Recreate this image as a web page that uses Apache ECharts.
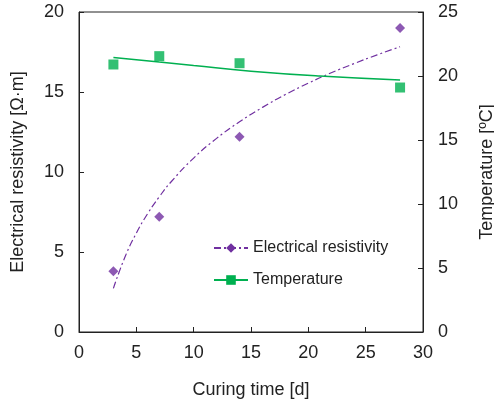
<!DOCTYPE html>
<html><head><meta charset="utf-8">
<script src="https://cdn.jsdelivr.net/npm/echarts@6/dist/echarts.min.js"></script>
<style>html,body{margin:0;padding:0;background:#fff}#c{width:494px;height:405px}</style>
</head><body><div id="c"></div>
<script>
const curingDays = [3, 7, 14, 28];
const resistivity = [3.8, 7.2, 12.2, 19.0];
const temperature = [20.9, 21.55, 21.0, 19.1];
const resTrendX = [3, 4, 5, 6, 7, 8, 10, 12, 14, 16, 18, 20, 22, 24, 26, 28];
const resTrendY = [2.73, 4.67, 6.18, 7.41, 8.45, 9.36, 10.87, 12.1, 13.14, 14.04, 14.84, 15.55, 16.2, 16.78, 17.32, 17.83];
const tempTrendX = [3, 7, 10, 15, 21, 28];
const tempTrendY = [21.45, 21.1, 20.82, 20.38, 20.0, 19.69];

const purple = '#7030A0', green = '#00B050';
const font = 'Liberation Sans, Arial, sans-serif';
const zip = (a, b) => a.map((v, i) => [v, b[i]]);

const chart = echarts.init(document.getElementById('c'));
chart.setOption({
  animation: false,
  grid: { left: 79, right: 71, top: 12, bottom: 73, containLabel: false, outerBoundsMode: 'none',
          show: true, borderColor: '#222', borderWidth: 1 },
  legend: {
    orient: 'vertical', left: 213, top: 240, padding: 0, itemWidth: 34, itemHeight: 12, itemGap: 16,
    textStyle: { fontFamily: font, fontSize: 16, color: '#222' },
    data: ['Electrical resistivity', 'Temperature']
  },
  xAxis: {
    type: 'value', min: 0, max: 30, interval: 5,
    name: 'Curing time [d]', nameLocation: 'middle', nameGap: 49,
    nameTextStyle: { fontFamily: font, fontSize: 18, color: '#222' },
    axisLine: { lineStyle: { color: '#222' } },
    axisTick: { inside: true, length: 5, lineStyle: { color: '#222' } },
    axisLabel: { fontFamily: font, fontSize: 18, color: '#222', margin: 12 },
    splitLine: { show: false }
  },
  yAxis: [{
    type: 'value', min: 0, max: 20, interval: 5,
    name: 'Electrical resistivity [Ω·m]', nameLocation: 'middle', nameGap: 52,
    nameTextStyle: { fontFamily: font, fontSize: 18, color: '#222' },
    axisLine: { show: true, lineStyle: { color: '#222' } },
    axisTick: { show: true, inside: true, length: 5, lineStyle: { color: '#222' } },
    axisLabel: { fontFamily: font, fontSize: 18, color: '#222', margin: 15 },
    splitLine: { show: false }
  }, {
    type: 'value', min: 0, max: 25, interval: 5, position: 'right',
    name: 'Temperature [ºC]', nameLocation: 'middle', nameGap: 55, nameRotate: 90,
    nameTextStyle: { fontFamily: font, fontSize: 18, color: '#222' },
    axisLine: { show: true, lineStyle: { color: '#222' } },
    axisTick: { show: true, inside: true, length: 5, lineStyle: { color: '#222' } },
    axisLabel: { fontFamily: font, fontSize: 18, color: '#222', margin: 15 },
    splitLine: { show: false }
  }],
  series: [{
    name: 'Electrical resistivity', type: 'line', yAxisIndex: 0, smooth: true,
    data: zip(resTrendX, resTrendY), showSymbol: false, symbol: 'diamond', symbolSize: 9,
    itemStyle: { color: purple },
    lineStyle: { color: purple, width: 1.2, type: [7, 3, 2, 3] }, z: 2
  }, {
    name: 'Electrical resistivity', type: 'scatter', yAxisIndex: 0,
    data: zip(curingDays, resistivity), symbol: 'diamond', symbolSize: 10,
    itemStyle: { color: purple }, z: 3
  }, {
    name: 'Temperature', type: 'line', yAxisIndex: 1, smooth: true,
    data: zip(tempTrendX, tempTrendY), showSymbol: false, symbol: 'rect', symbolSize: 10,
    itemStyle: { color: green },
    lineStyle: { color: green, width: 1.5 }, z: 2
  }, {
    name: 'Temperature', type: 'scatter', yAxisIndex: 1,
    data: zip(curingDays, temperature), symbol: 'rect', symbolSize: 10,
    itemStyle: { color: green }, z: 3
  }]
});
</script></body></html>
